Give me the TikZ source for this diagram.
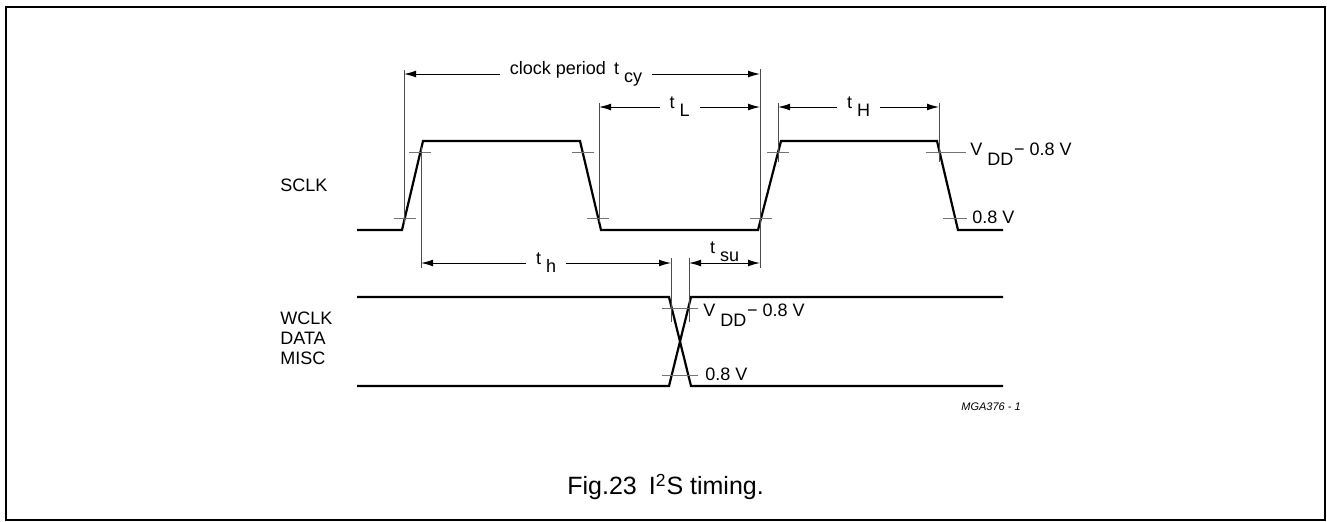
\documentclass[tikz,border=0pt]{standalone}
\usepackage{fontspec}
\setmainfont{Liberation Sans}
\usetikzlibrary{arrows.meta}
\newcommand{\lowsub}[3][4pt]{#2\hspace{2.5pt}\raisebox{-#1}{#3}}
\newcommand{\vddlbl}{\lowsub[5pt]{V}{DD}\hspace{0.3pt}−\hspace{2.5pt}0.8 V}
\begin{document}
\begin{tikzpicture}[x=0.5pt,y=-0.5pt,
    wave/.style={line width=1.1pt,line join=miter},
    levtick/.style={draw=black!55,line width=0.5pt},
    ext/.style={draw=black!70,line width=0.5pt},
    dim/.style={{Latex[length=6pt,width=3.4pt]}-{Latex[length=6pt,width=3.4pt]},line width=0.5pt},
    lbl/.style={font=\fontsize{9}{10}\selectfont,inner sep=0pt},
    gap/.style={lbl,fill=white,inner xsep=5pt,inner ysep=1pt},
    lvl/.style={lbl,anchor=base west}]
    \useasboundingbox (0,0) rectangle (1327,521);
    \draw[line width=0.75pt] (6,7) rectangle (1325,520);
    % waveforms
    \draw[wave] (357,230) -- (402,230) -- (423,141) -- (580,141) -- (601,230)
        -- (758,230) -- (781,141) -- (937,141) -- (958,230) -- (1003,230);
    \draw[wave] (357,297) -- (669,297) -- (691,386) -- (1003,386);
    \draw[wave] (357,386) -- (669,386) -- (691,297) -- (1003,297);
    % level ticks
    \foreach \x/\y in {404.8/218,420.4/152,582.6/152,598.2/218,761.1/218,778.2/152,939.6/152}
        \draw[levtick] (\x-11,\y) -- (\x+11,\y);
    \draw[levtick] (926,152) -- (966,152);
    \draw[levtick] (943,218) -- (967,218);
    \draw[levtick] (662,308) -- (698,308);
    \draw[levtick] (662,375) -- (698,375);
    % extension lines
    \foreach \x/\a/\b in {404/70/224,421/147/268,599/103/222,760/69/268,778/103/162,939/103/162,671/258/322,689/258/322}
        \draw[ext] (\x,\a) -- (\x,\b);
    % dimensions
    \coordinate (cyA) at (404,74);  \coordinate (cyB) at (760,74);
    \coordinate (tLA) at (599,107); \coordinate (tLB) at (760,107);
    \coordinate (tHA) at (778,107); \coordinate (tHB) at (939,107);
    \coordinate (thA) at (421,263); \coordinate (thB) at (671,263);
    \coordinate (tsA) at (689,263); \coordinate (tsB) at (760,263);
    \draw[dim] (cyA) -- node[gap,xshift=-3pt] (tcy) {clock period\hspace{4pt}\lowsub{t}{cy}} (cyB);
    \draw[dim] (tLA) -- node[gap] (tl) {\lowsub{t}{L}} (tLB);
    \draw[dim] (tHA) -- node[gap] (th) {\lowsub{t}{H}} (tHB);
    \draw[dim] (thA) -- node[gap] (thold) {\lowsub{t}{h}} (thB);
    \draw[dim] (tsA) -- node[lbl,above=0.5pt] (tsu) {\lowsub{t}{su}} (tsB);
    % levels
    \node[lvl] (vhi) at (970,155.5) {\vddlbl};
    \node[lvl] (vlo) at (972,223) {0.8 V};
    \node[lvl] (dhi) at (703,316) {\vddlbl};
    \node[lvl] (dlo) at (705,380) {0.8 V};
    % signal names
    \node[lbl,anchor=west] (sclk) at (280,185) {SCLK};
    \node[lbl,anchor=west,align=left] (dsig) at (280,338) {WCLK\\DATA\\MISC};
    \node[inner sep=0pt,anchor=base west,font=\fontsize{5.5}{6}\selectfont\itshape] (code) at (961,410) {MGA376 - 1};
    \node[inner sep=0pt,anchor=west,font=\fontsize{12.5}{14}\selectfont] (cap) at (567,487) {Fig.23\hspace{6pt}I\textsuperscript{2}S timing.};
\end{tikzpicture}
\end{document}
